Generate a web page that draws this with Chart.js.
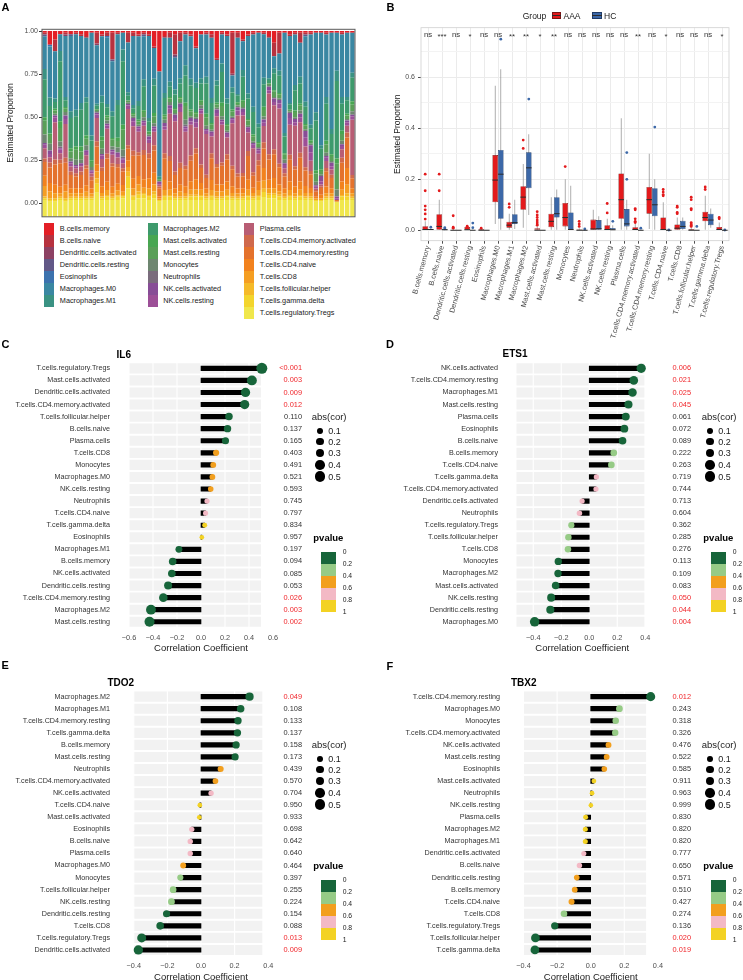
<!DOCTYPE html>
<html>
<head>
<meta charset="utf-8">
<title>Immune infiltration</title>
<script src="https://cdn.jsdelivr.net/npm/chart.js@4.4.1/dist/chart.umd.min.js"></script>
<style>
  html, body { margin: 0; padding: 0; background: #fff; overflow: hidden; }
  #page { position: relative; width: 743px; height: 980px; overflow: hidden;
          font-family: "Liberation Sans", Arial, Helvetica, sans-serif; color: #1a1a1a; }
  #page canvas { position: absolute; }
  .txt { position: absolute; white-space: nowrap; line-height: 1; transform: translateY(-50%); }
  .blk { position: absolute; }
</style>
</head>
<body>
<div id="page">
  <canvas id="chartA" width="365" height="222" style="left:0;top:0"></canvas>
  <canvas id="chartB" width="373" height="345" style="left:370px;top:0"></canvas>
  <canvas id="chartC" width="370" height="335" style="left:0;top:325px"></canvas>
  <canvas id="chartD" width="373" height="335" style="left:370px;top:325px"></canvas>
  <canvas id="chartE" width="370" height="340" style="left:0;top:645px"></canvas>
  <canvas id="chartF" width="373" height="340" style="left:370px;top:645px"></canvas>
</div>
<script>
// ---------- A: estimated proportion of each cell type per sample ----------
const cellTypes = ['B.cells.memory', 'B.cells.naive', 'Dendritic.cells.activated', 'Dendritic.cells.resting',
  'Eosinophils', 'Macrophages.M0', 'Macrophages.M1', 'Macrophages.M2', 'Mast.cells.activated',
  'Mast.cells.resting', 'Monocytes', 'Neutrophils', 'NK.cells.activated', 'NK.cells.resting',
  'Plasma.cells', 'T.cells.CD4.memory.activated', 'T.cells.CD4.memory.resting', 'T.cells.CD4.naive',
  'T.cells.CD8', 'T.cells.follicular.helper', 'T.cells.gamma.delta', 'T.cells.regulatory.Tregs'];

const bMemory = [0.01,0.08,0.05,0.02,0.01,0.02,0.01,0.02,0.03,0.01, 0.01,0.02,0.01,0.01,0.01,0.01,0.01,0.01,0.02,0.01,
  0.02,0.09,0.24,0.03,0.01,0.02,0.01,0.01,0.02,0.09, 0.02,0.01,0.02,0.16,0.01,0.02,0.01,0.01,0.05,0.02,
  0.01,0.01,0.01,0.03,0.07,0.01,0.01,0.02,0.01,0.01, 0.01,0.01,0.01,0.01,0.01,0.01,0.01,0.01,0.01,0.01];
const bNaive = [0.01,0,0.07,0,0.01,0,0.01,0.01,0.01,0, 0.06,0.01,0.02,0.16,0.01,0,0.06,0.02,0.01,0.01,
  0.01,0.01,0,0.01,0.03,0.12,0.05,0.01,0.01,0.01, 0,0.01,0.02,0.01,0.01,0.01,0.24,0.03,0.01,0.01,
  0.01,0,0.01,0.01,0.08,0.12,0,0.01,0.01,0.06, 0.01,0.01,0,0,0.01,0,0,0.01,0,0];
const dcActivated = [0,0,0,0,0.01,0,0,0,0,0, 0.01,0,0,0,0,0,0,0,0,0, 0,0,0,0,0,0.01,0,0,0,0,
  0,0,0,0,0,0,0.01,0,0,0, 0,0,0,0,0,0,0,0,0,0, 0,0,0,0,0,0,0,0,0,0];
const dcResting = [0.01,0,0,0,0,0.01,0,0,0,0, 0,0,0,0.01,0,0,0,0,0,0.01, 0,0,0,0,0,0.01,0,0,0,0,
  0,0,0,0,0,0,0,0,0,0, 0,0,0,0,0,0,0,0,0,0, 0.01,0,0,0,0,0,0,0,0,0];
const eosinophils = [0,0.01,0,0,0,0,0,0,0,0, 0,0,0.01,0,0,0,0,0,0,0, 0,0,0,0,0,0,0,0,0,0,
  0,0,0,0,0,0,0,0,0,0, 0,0,0,0,0,0,0,0,0,0, 0,0,0,0,0,0,0,0,0,0];
const macM0 = [0.19,0.30,0.28,0.10,0.36,0.45,0.45,0.40,0.36,0.62, 0.33,0.35,0.40,0.30,0.40,0.10,0.30,0.42,0.38,0.25,
  0.49,0.18,0.62,0.33,0.26,0.19,0.22,0.18,0.25,0.20, 0.26,0.25,0.36,0.12,0.17,0.37,0.07,0.34,0.17,0.34,
  0.42,0.55,0.27,0.24,0.07,0.10,0.60,0.40,0.30,0.20, 0.38,0.53,0.48,0.66,0.37,0.57,0.22,0.37,0.38,0.24];
const macM1 = [0.06,0.05,0.02,0.06,0.02,0.04,0.04,0.04,0.03,0.03, 0.01,0.04,0.02,0.03,0.03,0.07,0.02,0.02,0.03,0.04,
  0.02,0.04,0.01,0.03,0.03,0.03,0.03,0.06,0.04,0.03, 0.03,0.04,0.03,0.03,0.05,0.03,0.03,0.01,0.04,0.03,
  0.03,0.02,0.04,0.01,0.03,0.03,0.02,0.01,0.03,0.04, 0.03,0.02,0.05,0.02,0.04,0.03,0.06,0.04,0.02,0.03];
const macM2 = [0.22,0.16,0.04,0.36,0.04,0.18,0.18,0.22,0.20,0.12, 0.02,0.20,0.05,0.13,0.20,0.38,0.03,0.03,0.08,0.14,
  0.06,0.16,0.01,0.10,0.06,0.08,0.08,0.16,0.14,0.14, 0.10,0.18,0.12,0.10,0.18,0.12,0.10,0.04,0.14,0.12,
  0.13,0.09,0.14,0.02,0.10,0.10,0.10,0.03,0.12,0.12, 0.10,0.07,0.30,0.12,0.22,0.12,0.45,0.16,0.08,0.14];
const mastActivated = [0.02,0.01,0.01,0.04,0.01,0.02,0.02,0.03,0.02,0.01, 0,0.02,0.01,0.01,0.02,0.03,0,0.01,0.01,0.01,
  0.01,0.02,0,0.01,0.01,0.01,0.01,0.02,0.01,0.01, 0.01,0.02,0.01,0.01,0.02,0.01,0.01,0.01,0.01,0.01,
  0.01,0.01,0.02,0,0.01,0.01,0.01,0,0.01,0.01, 0.01,0.01,0.02,0.01,0.02,0.01,0.03,0.02,0.01,0.02];
const mastResting = [0.08,0.05,0.02,0.08,0.02,0.04,0.06,0.05,0.04,0.03, 0.01,0.05,0.02,0.04,0.04,0.12,0.01,0.01,0.02,0.03,
  0.01,0.04,0.01,0.02,0.02,0.02,0.02,0.08,0.03,0.02, 0.02,0.05,0.03,0.02,0.06,0.03,0.03,0.01,0.03,0.03,
  0.03,0.02,0.04,0.01,0.03,0.02,0.03,0.01,0.03,0.03, 0.02,0.01,0.05,0.02,0.05,0.03,0.15,0.04,0.02,0.04];
const monocytes = [0.05,0.04,0.01,0.03,0.02,0.02,0.03,0.02,0.03,0.02, 0.01,0.03,0.02,0.02,0.03,0.04,0.01,0.01,0.01,0.02,
  0.01,0.02,0,0.02,0.02,0.01,0.01,0.03,0.01,0.01, 0.02,0.02,0.01,0.01,0.02,0.01,0.01,0.01,0.01,0.01,
  0.01,0.01,0.02,0.01,0.01,0.01,0.02,0.01,0.01,0.02, 0.01,0.01,0.02,0.01,0.02,0.01,0.04,0.02,0.01,0.02];
const neutrophils = [0,0,0,0.01,0,0,0,0,0,0, 0,0,0,0,0,0.01,0,0,0,0, 0,0,0,0,0,0,0,0.01,0,0,
  0,0,0,0,0,0,0,0,0,0, 0,0,0,0,0,0,0,0,0,0, 0,0,0,0,0,0,0,0,0,0];
const nkActivated = [0.01,0.02,0.01,0.01,0.02,0.01,0.01,0.01,0.01,0.01, 0.01,0.01,0.01,0.01,0.01,0.01,0.01,0.02,0.01,0.01,
  0.02,0.01,0.01,0.02,0.02,0.02,0.02,0.01,0.02,0.02, 0.01,0.01,0.01,0.02,0.01,0.01,0.01,0.02,0.02,0.01,
  0.01,0.01,0.02,0.02,0.02,0.02,0.01,0.03,0.02,0.02, 0.04,0.04,0.01,0.03,0.01,0.02,0.01,0.01,0.01,0.01];
const nkResting = [0.02,0.02,0.03,0.02,0.03,0.02,0.01,0.01,0.02,0.01, 0.02,0.02,0.02,0.02,0.02,0.02,0.02,0.03,0.02,0.02,
  0.02,0.02,0.01,0.02,0.03,0.02,0.03,0.02,0.02,0.03, 0.02,0.02,0.02,0.02,0.02,0.02,0.02,0.03,0.02,0.02,
  0.02,0.02,0.02,0.02,0.02,0.03,0.02,0.04,0.02,0.03, 0.05,0.05,0.01,0.02,0.02,0.02,0.01,0.02,0.02,0.02];
const plasmaCells = [0.06,0.03,0.22,0.04,0.20,0.03,0.03,0.03,0.06,0.02, 0.13,0.05,0.15,0.05,0.04,0.03,0.22,0.15,0.12,0.14,
  0.06,0.08,0.01,0.14,0.25,0.30,0.30,0.20,0.18,0.12, 0.30,0.24,0.10,0.28,0.22,0.10,0.25,0.35,0.34,0.11,
  0.14,0.04,0.10,0.36,0.26,0.32,0.03,0.18,0.24,0.18, 0.12,0.06,0.01,0.01,0.04,0.03,0,0.05,0.04,0.33];
const cd4MemAct = [0.02,0.03,0.03,0.02,0.03,0.02,0.02,0.02,0.02,0.02, 0.03,0.02,0.03,0.02,0.02,0.02,0.02,0.03,0.02,0.03,
  0.03,0.03,0.01,0.03,0.03,0.02,0.03,0.02,0.03,0.03, 0.02,0.02,0.03,0.02,0.02,0.03,0.02,0.02,0.02,0.03,
  0.02,0.03,0.04,0.03,0.03,0.02,0.02,0.03,0.02,0.03, 0.02,0.02,0.01,0.01,0.02,0.02,0,0.03,0.03,0.02];
const cd4MemRest = [0.08,0.09,0.12,0.14,0.13,0.08,0.07,0.08,0.10,0.05, 0.10,0.09,0.14,0.12,0.10,0.08,0.07,0.14,0.12,0.14,
  0.12,0.13,0.05,0.13,0.12,0.08,0.10,0.10,0.12,0.15, 0.09,0.06,0.13,0.10,0.11,0.13,0.10,0.07,0.07,0.14,
  0.07,0.10,0.12,0.12,0.14,0.10,0.07,0.13,0.10,0.14, 0.09,0.08,0.03,0.04,0.09,0.06,0.01,0.11,0.18,0.06];
const cd4Naive = [0.06,0.05,0.05,0.04,0.04,0.03,0.03,0.03,0.04,0.03, 0.04,0.04,0.05,0.04,0.04,0.04,0.04,0.06,0.05,0.05,
  0.06,0.07,0.01,0.06,0.05,0.03,0.04,0.04,0.05,0.06, 0.04,0.03,0.06,0.04,0.04,0.05,0.04,0.03,0.03,0.06,
  0.03,0.05,0.08,0.05,0.06,0.04,0.03,0.05,0.04,0.05, 0.04,0.03,0.01,0.02,0.04,0.03,0,0.05,0.10,0.03];
const cd8 = [0.06,0.04,0.03,0.02,0.04,0.02,0.02,0.02,0.03,0.02, 0.04,0.02,0.03,0.02,0.03,0.02,0.03,0.04,0.04,0.03,
  0.04,0.04,0.01,0.03,0.03,0.02,0.03,0.02,0.03,0.03, 0.03,0.02,0.03,0.03,0.03,0.03,0.02,0.02,0.02,0.03,
  0.02,0.03,0.05,0.03,0.03,0.02,0.02,0.03,0.02,0.03, 0.02,0.02,0.01,0.01,0.02,0.02,0,0.03,0.05,0.02];
const tfh = [0.01,0.01,0.01,0.01,0.01,0.01,0.01,0.01,0.01,0.01, 0.03,0.01,0.01,0.01,0.01,0.01,0.03,0.01,0.02,0.01,
  0.01,0.02,0,0.01,0.01,0.01,0.01,0.01,0.01,0.01, 0.01,0.01,0.01,0.01,0.01,0.01,0.01,0.01,0.01,0.01,
  0.01,0.01,0.02,0.01,0.01,0.01,0.01,0.01,0.01,0.01, 0.01,0.01,0,0,0.01,0.01,0,0.01,0.02,0.01];
const gammaDelta = [0.01,0.01,0.01,0.01,0.01,0.01,0.01,0.01,0.01,0.01, 0.05,0.01,0.02,0.01,0.02,0.01,0.07,0.02,0.02,0.02,
  0.02,0.02,0.01,0.02,0.02,0.01,0.01,0.01,0.02,0.02, 0.02,0.01,0.02,0.01,0.01,0.02,0.01,0.01,0.01,0.02,
  0.01,0.02,0.03,0.02,0.02,0.02,0.01,0.02,0.01,0.02, 0.01,0.01,0.01,0.01,0.01,0.01,0,0.02,0.02,0.01];
const tRegs = [0.02,0.01,0.01,0.02,0.01,0.02,0.02,0.02,0.02,0.02, 0.06,0.02,0.02,0.02,0.02,0.03,0.09,0.02,0.03,0.03,
  0.02,0.03,0.01,0.02,0.02,0.02,0.02,0.02,0.02,0.02, 0.02,0.02,0.02,0.02,0.02,0.02,0.02,0.02,0.02,0.02,
  0.02,0.02,0.04,0.03,0.03,0.02,0.02,0.02,0.02,0.02, 0.02,0.02,0.01,0.01,0.02,0.02,0.01,0.02,0.02,0.02];

// ---------- B: boxplots AAA vs HC ----------
const sigLabels = ['ns','***','ns','*','ns','ns','**','**','*','**','ns','ns','ns','ns','ns','**','ns','*','ns','ns','ns','*'];
const aaaLow  = [0,0,0,0,0,0.025,0,0.01,0,0,0,0,0,0,0,0,0.005,0,0,0,0,0];
const aaaQ1   = [0,0.002,0,0,0,0.11,0.01,0.08,0,0.012,0.015,0,0,0,0.045,0,0.065,0,0.002,0,0.035,0];
const aaaMed  = [0.003,0.015,0,0.002,0,0.197,0.02,0.13,0,0.035,0.05,0,0.005,0.003,0.12,0.003,0.12,0.003,0.008,0,0.05,0.003];
const aaaQ3   = [0.016,0.063,0.002,0.013,0.005,0.295,0.033,0.173,0.008,0.065,0.107,0.004,0.042,0.02,0.223,0.012,0.17,0.05,0.023,0.005,0.073,0.013];
const aaaHigh = [0.035,0.12,0.005,0.014,0.006,0.567,0.065,0.26,0.016,0.13,0.2,0.008,0.08,0.045,0.44,0.028,0.30,0.11,0.05,0.012,0.135,0.03];
const aaaOutliers = [[0.22,0.155,0.095,0.08,0.064,0.044],[0.22,0.155],[0.057,0.012,0.008],[0.016,0.012],[0.008],[],
  [0.103,0.09],[0.354,0.321],[0.073,0.06,0.05,0.04,0.032,0.025,0.02],[],[0.25],[0.035,0.025,0.015],[],[0.105,0.068],[],
  [0.085,0.08,0.045,0.035,0.03],[],[0.16,0.15,0.14,0.135],[0.095,0.09,0.07,0.065],[0.13,0.12,0.085,0.08,0.03,0.025,0.02,0.015],
  [0.17,0.16],[0.05,0.045]];
const hcLow  = [0,0,0,0,0,0,0.005,0.06,0,0,0,0,0,0,0,0,0,0,0.002,0,0.01,0];
const hcQ1   = [0,0,0,0,0,0.045,0.025,0.165,0,0.05,0,0,0,0,0.015,0,0.055,0,0.005,0,0.02,0];
const hcMed  = [0.003,0.002,0,0,0,0.22,0.03,0.245,0,0.065,0.003,0,0.006,0.002,0.025,0,0.10,0,0.015,0,0.04,0];
const hcQ3   = [0.005,0.005,0,0.002,0,0.315,0.063,0.306,0,0.13,0.07,0,0.04,0.009,0.083,0,0.165,0,0.037,0,0.065,0];
const hcHigh = [0.008,0.008,0,0.004,0,0.632,0.12,0.377,0,0.16,0.175,0,0.055,0.02,0.12,0,0.20,0,0.05,0,0.085,0];
const hcOutliers = [[0.012],[0.01,0.006],[],[0.028,0.01],[],[0.75],[],[0.515],[],[],[],[0.005],[],[0.035],
  [0.2,0.305],[0.008],[0.405],[0.001],[],[0.015],[],[0.001]];

// ---------- C-F: correlation of gene expression with cell proportions ----------
const il6Cells = ['T.cells.regulatory.Tregs','Mast.cells.activated','Dendritic.cells.activated','T.cells.CD4.memory.activated',
  'T.cells.follicular.helper','B.cells.naive','Plasma.cells','T.cells.CD8','Monocytes','Macrophages.M0','NK.cells.resting',
  'Neutrophils','T.cells.CD4.naive','T.cells.gamma.delta','Eosinophils','Macrophages.M1','B.cells.memory','NK.cells.activated',
  'Dendritic.cells.resting','T.cells.CD4.memory.resting','Macrophages.M2','Mast.cells.resting'];
const il6Cor = [0.507,0.424,0.371,0.364,0.233,0.221,0.204,0.126,0.102,0.095,0.081,0.05,0.038,0.031,0.007,
  -0.184,-0.236,-0.243,-0.274,-0.314,-0.417,-0.429];
const il6P = ['<0.001','0.003','0.009','0.012','0.110','0.137','0.165','0.403','0.491','0.521','0.593','0.745','0.797',
  '0.834','0.957','0.197','0.094','0.085','0.053','0.026','0.003','0.002'];

const ets1Cells = ['NK.cells.activated','T.cells.CD4.memory.resting','Macrophages.M1','Mast.cells.resting','Plasma.cells',
  'Eosinophils','B.cells.naive','B.cells.memory','T.cells.CD4.naive','T.cells.gamma.delta','T.cells.CD4.memory.activated',
  'Dendritic.cells.activated','Neutrophils','T.cells.regulatory.Tregs','T.cells.follicular.helper','T.cells.CD8','Monocytes',
  'Macrophages.M2','Mast.cells.activated','NK.cells.resting','Dendritic.cells.resting','Macrophages.M0'];
const ets1Cor = [0.371,0.318,0.309,0.28,0.261,0.251,0.238,0.175,0.158,0.051,0.048,-0.051,-0.07,-0.128,-0.149,-0.152,
  -0.221,-0.223,-0.24,-0.272,-0.278,-0.39];
const ets1P = ['0.006','0.021','0.025','0.045','0.061','0.072','0.089','0.222','0.263','0.719','0.744','0.713','0.604',
  '0.362','0.285','0.276','0.113','0.109','0.083','0.050','0.044','0.004'];

const tdo2Cells = ['Macrophages.M2','Macrophages.M1','T.cells.CD4.memory.resting','T.cells.gamma.delta','B.cells.memory',
  'Mast.cells.resting','Neutrophils','T.cells.CD4.memory.activated','NK.cells.activated','T.cells.CD4.naive',
  'Mast.cells.activated','Eosinophils','B.cells.naive','Plasma.cells','Macrophages.M0','Monocytes','T.cells.follicular.helper',
  'NK.cells.resting','Dendritic.cells.resting','T.cells.CD8','T.cells.regulatory.Tregs','Dendritic.cells.activated'];
const tdo2Cor = [0.289,0.236,0.22,0.217,0.209,0.203,0.117,0.086,0.06,-0.007,-0.01,-0.055,-0.064,-0.064,-0.106,-0.123,
  -0.166,-0.176,-0.205,-0.243,-0.353,-0.373];
const tdo2P = ['0.049','0.108','0.133','0.137','0.158','0.173','0.439','0.570','0.704','0.950','0.933','0.698','0.642',
  '0.640','0.464','0.397','0.255','0.224','0.154','0.088','0.013','0.009'];

const tbx2Cells = ['T.cells.CD4.memory.resting','Macrophages.M0','Monocytes','T.cells.CD4.memory.activated',
  'NK.cells.activated','Mast.cells.resting','Eosinophils','Mast.cells.activated','Neutrophils','NK.cells.resting',
  'Plasma.cells','Macrophages.M2','Macrophages.M1','Dendritic.cells.activated','B.cells.naive','Dendritic.cells.resting',
  'B.cells.memory','T.cells.CD4.naive','T.cells.CD8','T.cells.regulatory.Tregs','T.cells.follicular.helper','T.cells.gamma.delta'];
const tbx2Cor = [0.357,0.171,0.149,0.146,0.106,0.095,0.081,0.019,0.008,0.001,-0.03,-0.032,-0.032,-0.041,-0.067,-0.083,
  -0.095,-0.114,-0.159,-0.214,-0.329,-0.332];
const tbx2P = ['0.012','0.243','0.318','0.326','0.476','0.522','0.585','0.911','0.963','0.999','0.830','0.820','0.820',
  '0.777','0.650','0.571','0.510','0.427','0.274','0.136','0.020','0.019'];

// ---------- styles ----------
const cellColors = ['#E31F26','#B7323F','#8D4163','#625887','#3C72AE','#3A87A2','#3A9283','#3E9A6C','#48A651',
  '#5A9F58','#6E8670','#7A6C7C','#874D96','#9C4F97','#B85D74','#D0694C','#E4722D','#F2821E','#F59E22','#F5BA29',
  '#F3D52D','#F0E74C'];
const pBinColors = ['#17653A','#96CB86','#F29F1E','#F3B9C5','#F3D223'];
const aaaColor = '#E31A1C', hcColor = '#3C68A8';
const FONT = "'Liberation Sans', Arial, Helvetica, sans-serif";

Chart.defaults.font.family = FONT;
Chart.defaults.color = '#4d4d4d';
Chart.defaults.animation = false;
Chart.defaults.responsive = false;
Chart.defaults.plugins.legend.display = false;
Chart.defaults.plugins.tooltip.enabled = false;

const pNum = s => parseFloat(String(s).replace('<', ''));
const pColor = p => pBinColors[Math.min(4, Math.floor(p / 0.2))];
const dotRadius = v => 2.3 + 6.3 * Math.abs(v);
const fmtCor = v => Math.abs(v) < 1e-9 ? '0.0' : (v < 0 ? '\u2212' + Math.abs(v).toFixed(1) : v.toFixed(1));

const frame = {
  id: 'frame',
  afterDraw(chart, args, opts) {
    const { ctx, chartArea: a } = chart;
    ctx.save();
    ctx.strokeStyle = opts.color;
    ctx.lineWidth = opts.width;
    ctx.strokeRect(a.left, a.top, a.right - a.left, a.bottom - a.top);
    ctx.restore();
  }
};

// ---------- chart A ----------
const propSeries = [bMemory, bNaive, dcActivated, dcResting, eosinophils, macM0, macM1, macM2, mastActivated,
  mastResting, monocytes, neutrophils, nkActivated, nkResting, plasmaCells, cd4MemAct, cd4MemRest, cd4Naive, cd8,
  tfh, gammaDelta, tRegs];
const sampleIds = bMemory.map((_, j) => 'S' + (j + 1));
const totals = sampleIds.map((_, j) => propSeries.reduce((s, arr) => s + arr[j], 0));
const stackDatasets = [];
for (let k = cellTypes.length - 1; k >= 0; k--) {
  stackDatasets.push(Object.assign({
    label: cellTypes[k],
    data: propSeries[k].map((v, j) => v / totals[j]),
    backgroundColor: cellColors[k],
    borderWidth: 0,
    barPercentage: 1,
    categoryPercentage: 0.84
  }, k === cellTypes.length - 1 ? { base: -0.078 } : {}));
}

new Chart(document.getElementById('chartA'), {
  type: 'bar',
  data: { labels: sampleIds, datasets: stackDatasets },
  options: {
    layout: { padding: { top: 29.3, right: 10, bottom: 4.5, left: 0 } },
    scales: {
      x: { stacked: true, display: false },
      y: {
        stacked: true, min: -0.078, max: 1.01,
        afterBuildTicks: s => { s.ticks = [0, 0.25, 0.5, 0.75, 1].map(v => ({ value: v })); },
        afterFit: s => { s.width = 42; },
        border: { display: false },
        grid: { drawOnChartArea: false, tickLength: 3, tickColor: '#333' },
        ticks: { padding: 1, font: { size: 7 }, color: '#4d4d4d', callback: v => v.toFixed(2) },
        title: { display: true, text: 'Estimated Proportion', font: { size: 8.5 }, color: '#1a1a1a', padding: { top: 6, bottom: 0 } }
      }
    },
    plugins: { frame: { color: '#5a5a5a', width: 1 } }
  },
  plugins: [frame]
});

// ---------- chart B ----------
const bCells = cellTypes;
function boxDatasets(name, lo, q1, med, q3, hi, fill, edge) {
  return [
    { type: 'bar', label: name + ' whisker', stack: name, order: 4,
      data: bCells.map((c, i) => ({ x: i, y: [lo[i], hi[i]] })),
      backgroundColor: '#8a8a8a', maxBarThickness: 0.7, categoryPercentage: 0.8, barPercentage: 1 },
    { type: 'bar', label: name, stack: name, order: 3, medians: med,
      data: bCells.map((c, i) => ({ x: i, y: [q1[i], q3[i]] })),
      backgroundColor: fill, borderColor: edge, borderWidth: 0.6, borderSkipped: false,
      categoryPercentage: 0.8, barPercentage: 1 }
  ];
}
const outlierPoints = (lists, shift) => lists.flatMap((arr, i) => arr.map(v => ({ x: i + shift, y: v })));

const medianLines = {
  id: 'medianLines',
  afterDatasetsDraw(chart) {
    const { ctx, scales: { y } } = chart;
    ctx.save();
    chart.data.datasets.forEach((ds, di) => {
      if (!ds.medians) return;
      chart.getDatasetMeta(di).data.forEach((bar, i) => {
        const py = y.getPixelForValue(ds.medians[i]);
        ctx.beginPath();
        ctx.moveTo(bar.x - bar.width / 2, py);
        ctx.lineTo(bar.x + bar.width / 2, py);
        ctx.strokeStyle = '#2b2b2b';
        ctx.lineWidth = 1;
        ctx.stroke();
      });
    });
    ctx.restore();
  }
};
const sigText = {
  id: 'sigText',
  afterDatasetsDraw(chart, args, opts) {
    const { ctx, scales: { x } } = chart;
    ctx.save();
    ctx.font = '7.8px ' + FONT;
    ctx.fillStyle = '#333';
    ctx.textAlign = 'center';
    ctx.textBaseline = 'middle';
    opts.labels.forEach((s, i) => ctx.fillText(s, x.getPixelForValue(i), opts.y + (s[0] === '*' ? 2.2 : 0)));
    ctx.restore();
  }
};

new Chart(document.getElementById('chartB'), {
  type: 'bar',
  data: {
    datasets: [
      ...boxDatasets('AAA', aaaLow, aaaQ1, aaaMed, aaaQ3, aaaHigh, aaaColor, '#7a1515'),
      ...boxDatasets('HC', hcLow, hcQ1, hcMed, hcQ3, hcHigh, hcColor, '#1f3b66'),
      { type: 'scatter', label: 'AAA outliers', order: 0, data: outlierPoints(aaaOutliers, -0.2),
        pointRadius: 1.4, pointBorderWidth: 0, pointBackgroundColor: aaaColor },
      { type: 'scatter', label: 'HC outliers', order: 0, data: outlierPoints(hcOutliers, 0.2),
        pointRadius: 1.4, pointBorderWidth: 0, pointBackgroundColor: hcColor }
    ]
  },
  options: {
    layout: { padding: { top: 27.7, right: 14, bottom: 0, left: 0 } },
    scales: {
      x: {
        type: 'linear', min: -0.5, max: 21.5, offset: false,
        afterBuildTicks: s => { s.ticks = bCells.map((c, i) => ({ value: i })); },
        afterFit: s => { s.height = 104.3; },
        border: { display: false },
        grid: { color: '#EBEBEB', offset: false, tickLength: 3, tickColor: '#4d4d4d' },
        ticks: { autoSkip: false, minRotation: 75, maxRotation: 75, padding: 1, font: { size: 7.3 },
                 color: '#4d4d4d', callback: v => bCells[v] }
      },
      y: {
        stacked: false, min: -0.041, max: 0.795,
        afterBuildTicks: s => { s.ticks = [0, 0.1, 0.2, 0.3, 0.4, 0.5, 0.6, 0.7].map(v => ({ value: v })); },
        afterFit: s => { s.width = 51; },
        border: { display: false },
        grid: {
          color: c => c.index % 2 === 0 ? '#EBEBEB' : '#F3F3F3',
          tickColor: c => c.index % 2 === 0 ? '#4d4d4d' : 'rgba(0,0,0,0)',
          tickLength: 3
        },
        ticks: { padding: 3, font: { size: 7 }, color: '#4d4d4d',
                 callback: (v, i) => i % 2 === 0 ? v.toFixed(1) : '' },
        title: { display: true, text: 'Estimated Proportion', font: { size: 8.5 }, color: '#1a1a1a',
                 padding: { top: 23, bottom: 0 } }
      }
    },
    plugins: {
      frame: { color: '#CFCFCF', width: 0.8 },
      sigText: { labels: sigLabels, y: 35 }
    }
  },
  plugins: [frame, medianLines, sigText]
});

// ---------- charts C-F ----------
const lolliExtras = {
  id: 'lolliExtras',
  afterDatasetDraw(chart, args, opts) {
    if (chart.data.datasets[args.index].label !== 'band') return;
    const { ctx, chartArea: a, scales: { x } } = chart;
    ctx.save();
    ctx.strokeStyle = '#ffffff';
    ctx.lineWidth = 1.1;
    opts.ticks.forEach(v => {
      const px = x.getPixelForValue(v);
      ctx.beginPath();
      ctx.moveTo(px, a.top);
      ctx.lineTo(px, a.bottom);
      ctx.stroke();
    });
    ctx.restore();
  },
  afterDatasetsDraw(chart, args, opts) {
    const { ctx, scales: { y } } = chart;
    ctx.save();
    ctx.font = '7.4px ' + FONT;
    ctx.textAlign = 'right';
    ctx.textBaseline = 'middle';
    opts.pText.forEach((s, i) => {
      ctx.fillStyle = pNum(s) <= 0.05 ? '#F0262B' : '#333333';
      ctx.fillText(s, opts.textX, y.getPixelForValue(i));
    });
    ctx.restore();
  }
};

function lollipop(id, cells, cors, pvals, g) {
  const pv = pvals.map(pNum);
  new Chart(document.getElementById(id), {
    type: 'bar',
    data: {
      labels: cells,
      datasets: [
        { type: 'bar', label: 'band', indexAxis: 'y', grouped: false, order: 3,
          data: cells.map(() => [g.bandLo, g.bandHi]),
          backgroundColor: '#F2F2F2', barPercentage: 1, categoryPercentage: 0.84 },
        { type: 'bar', label: 'stick', indexAxis: 'y', grouped: false, order: 2,
          data: cors.map(v => [0, v]), backgroundColor: '#000000', barThickness: 4.5 },
        { type: 'scatter', label: 'cor', order: 1, clip: false,
          data: cors.map((v, i) => ({ x: v, y: cells[i] })),
          pointRadius: c => dotRadius(c.raw.x),
          pointBorderWidth: 0,
          pointBackgroundColor: c => pColor(pv[c.dataIndex]) }
      ]
    },
    options: {
      layout: { padding: { top: g.pt, right: g.pr, bottom: g.pb, left: 0 } },
      scales: {
        x: {
          type: 'linear', min: g.xMin, max: g.xMax,
          afterBuildTicks: s => { s.ticks = g.ticks.map(v => ({ value: v })); },
          afterFit: s => { s.height = 26.6; },
          border: { display: false },
          grid: { display: false, drawTicks: false, tickLength: 0 },
          ticks: { padding: 5.5, font: { size: 7.3 }, color: '#4d4d4d', callback: v => fmtCor(v) },
          title: { display: true, text: 'Correlation Coefficient', font: { size: 9.5 }, color: '#1a1a1a',
                   padding: { top: 0, bottom: 0 } }
        },
        y: {
          type: 'category', offset: true,
          afterFit: s => { s.width = g.yw; },
          border: { display: false },
          grid: { display: false, drawTicks: false, tickLength: 0 },
          ticks: { autoSkip: false, padding: g.tickPad, font: { size: 7.2 }, color: '#333333' }
        }
      },
      plugins: { lolliExtras: { ticks: g.ticks, pText: pvals, textX: g.textX } }
    },
    plugins: [lolliExtras]
  });
}

const ticks6 = [-0.6, -0.4, -0.2, 0, 0.2, 0.4, 0.6];
const ticks4 = [-0.4, -0.2, 0, 0.2, 0.4];
lollipop('chartC', il6Cells, il6Cor, il6P,
  { xMin: -0.6, xMax: 0.6, bandLo: -0.6, bandHi: 0.5, ticks: ticks6, yw: 117, tickPad: 7, pt: 37.3, pr: 85, pb: 5.6, textX: 302 });
lollipop('chartD', ets1Cells, ets1Cor, ets1P,
  { xMin: -0.52, xMax: 0.42, bandLo: -0.52, bandHi: 0.395, ticks: ticks4, yw: 130, tickPad: 2, pt: 37.3, pr: 78.5, pb: 5.6, textX: 321 });
lollipop('chartE', tdo2Cells, tdo2Cor, tdo2P,
  { xMin: -0.4, xMax: 0.4, bandLo: -0.4, bandHi: 0.365, ticks: ticks4, yw: 117, tickPad: 7, pt: 45.6, pr: 85, pb: 2.4, textX: 302 });
lollipop('chartF', tbx2Cells, tbx2Cor, tbx2P,
  { xMin: -0.4, xMax: 0.4, bandLo: -0.4, bandHi: 0.33, ticks: ticks4, yw: 136.7, tickPad: 6.7, pt: 45.6, pr: 68.3, pb: 2.4, textX: 321 });

// ---------- text, legends ----------
const page = document.getElementById('page');
function addText(text, x, y, css) {
  const d = document.createElement('div');
  d.className = 'txt';
  d.textContent = text;
  d.style.left = x + 'px';
  d.style.top = y + 'px';
  Object.assign(d.style, css || {});
  page.appendChild(d);
  return d;
}
function addBlock(x, y, w, h, css) {
  const d = document.createElement('div');
  d.className = 'blk';
  Object.assign(d.style, { left: x + 'px', top: y + 'px', width: w + 'px', height: h + 'px' }, css || {});
  page.appendChild(d);
  return d;
}

// panel tags and gene titles
const tagCss = { fontWeight: 'bold', fontSize: '11px', color: '#000' };
addText('A', 1.5, 6.5, tagCss);
addText('B', 386.5, 7, tagCss);
addText('C', 1.5, 343.5, tagCss);
addText('D', 386, 344, tagCss);
addText('E', 1.5, 664.5, tagCss);
addText('F', 386.5, 665.5, tagCss);
const geneCss = { fontWeight: 'bold', fontSize: '10px', color: '#000' };
addText('IL6', 116.5, 354.5, geneCss);
addText('ETS1', 502.5, 354, geneCss);
addText('TDO2', 107.5, 683, geneCss);
addText('TBX2', 511, 683, geneCss);

// legend A: three columns
const legendCols = [[0, 7], [7, 14], [14, 22]];
const legendColX = [44.3, 147.7, 244.3];
legendCols.forEach(([s, e], ci) => {
  for (let k = s; k < e; k++) {
    const cy = 229.2 + 12 * (k - s);
    addBlock(legendColX[ci], cy - 5.8, 10, 11.6, { background: cellColors[k] });
    addText(cellTypes[k], legendColX[ci] + 15.5, cy, { fontSize: '7.3px', color: '#1a1a1a' });
  }
});

// legend B
const legB = { fontSize: '8.5px', color: '#1a1a1a' };
addText('Group', 522.7, 15.7, legB);
[[551.7, aaaColor, '#7a1515', 'AAA'], [592.3, hcColor, '#1f3b66', 'HC']].forEach(([x, fill, edge, name]) => {
  addBlock(x, 12, 9.3, 7.4, { background: fill, boxSizing: 'border-box', border: '0.6px solid ' + edge });
  addBlock(x, 15.3, 9.3, 1, { background: '#2b2b2b' });
  addText(name, x + 11.8, 15.7, legB);
});

// legends C-F
const sizeBreaks = [0.1, 0.2, 0.3, 0.4, 0.5];
const sizeRowY = [14, 25, 36.6, 48.3, 60];
const binLabels = ['0', '0.2', '0.4', '0.6', '0.8', '1'];
[[0, 0], [390, 0], [0, 328], [390, 328]].forEach(([dx, dy]) => {
  const tx = 311.7 + dx, ty = 416.7 + dy;
  addText('abs(cor)', tx, ty, { fontSize: '9.5px', color: '#1a1a1a' });
  sizeBreaks.forEach((v, i) => {
    const r = dotRadius(v), cy = ty + sizeRowY[i];
    addBlock(tx + 8.3 - r, cy - r, 2 * r, 2 * r, { background: '#000', borderRadius: '50%' });
    addText(v.toFixed(1), tx + 16.5, cy, { fontSize: '9px', color: '#1a1a1a' });
  });
  addText('pvalue', 313.3 + dx, 538.3 + dy, { fontSize: '9.5px', fontWeight: 'bold', color: '#000' });
  pBinColors.forEach((c, i) => addBlock(320.7 + dx, 551.7 + dy + 12 * i, 15.3, 12, { background: c }));
  binLabels.forEach((t, i) => addText(t, 342.7 + dx, 551.7 + dy + 12 * i, { fontSize: '6.8px', color: '#1a1a1a' }));
});
</script>
</body>
</html>
